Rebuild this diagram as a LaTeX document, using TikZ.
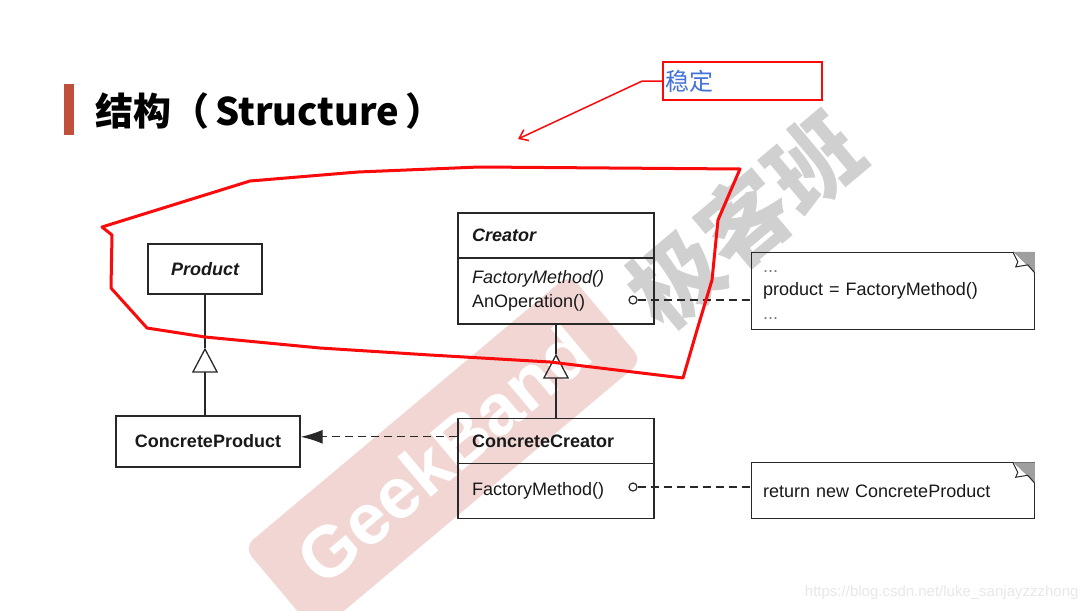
\documentclass[tikz,border=0pt]{standalone}
\usepackage{fontspec}
\setmainfont{Liberation Sans}
\newfontfamily\cjkfont{Noto Sans CJK SC}
\usetikzlibrary{positioning}
\usetikzlibrary{arrows.meta}
\definecolor{boxline}{RGB}{40,40,40}
\definecolor{boxtext}{RGB}{25,25,25}
\definecolor{dotgray}{RGB}{120,120,120}
\definecolor{titlered}{RGB}{192,80,60}
\definecolor{stableblue}{RGB}{66,114,216}
\definecolor{markred}{RGB}{250,10,10}
\definecolor{wmpink}{RGB}{241,214,211}
\definecolor{wmgray}{RGB}{208,208,208}
\definecolor{urlgray}{RGB}{232,232,232}
\newcommand{\umlfont}{\fontsize{18}{23}\selectfont}
\tikzstyle{every picture}=[x=1pt, y=-1pt]
\tikzstyle{every node}=[font=\umlfont, text=boxtext]
\tikzstyle{component}=[draw=boxline, line width=1.3pt, rectangle, inner xsep=14pt, align=left]
\tikzstyle{classhead}=[component, text width=168pt, minimum height=45pt]
\tikzstyle{classbody}=[component, text width=168pt, font=\fontsize{18}{24}\selectfont]
\tikzstyle{note}=[component, line width=1.1pt, inner xsep=12pt, text width=259pt, font=\fontsize{18}{23.5}\selectfont]
\tikzstyle{link}=[draw=boxline, line width=1.3pt]
\tikzstyle{uses}=[link, dash pattern=on 8pt off 5pt]
\tikzstyle{inherit}=[link, -{Triangle[open, length=25pt, width=26pt]}]
\tikzstyle{port}=[draw=boxline, line width=1.2pt, circle, inner sep=0pt, minimum size=8pt]
\tikzstyle{scribble}=[draw=markred, line width=3pt, line join=round]
\newcommand{\dogear}[1]{%
  \fill[gray!75] ([xshift=-22pt]#1.north east) -- (#1.north east) -- ([yshift=-21pt]#1.north east) -- cycle;
  \draw[boxline, line width=1pt, fill=white] ([xshift=-22pt]#1.north east)
    -- ([xshift=-17pt, yshift=-10pt]#1.north east) -- ([xshift=-19pt, yshift=-15pt]#1.north east)
    -- ([xshift=-7pt, yshift=-13pt]#1.north east) -- ([yshift=-21pt]#1.north east);}

\begin{document}
\begin{tikzpicture}
\useasboundingbox (0,0) rectangle (1091,610);
\fill[white] (0,0) rectangle (1091,610);

\begin{scope}
\clip (0,0) rectangle (1091,610);
\node[fill=wmpink, rounded corners=12pt, rotate=40, minimum width=425pt, minimum height=113pt,
      text=white, font=\fontsize{72}{72}\selectfont\bfseries] (GeekBand) at (443,454) {GeekBand};
\node[rotate=40, text=wmgray, font=\cjkfont\bfseries\fontsize{90}{90}\selectfont] (GeekClass) at (745,220) {极客班};
\end{scope}
\node[anchor=east, text=urlgray, font=\fontsize{15}{15}\selectfont] (BlogUrl) at (1082,593)
  {https://blog.csdn.net/luke\_sanjayzzzhong};

\fill[titlered] (64,84) rectangle (74,135);
\node[anchor=west, inner sep=0pt, text=black, font=\cjkfont\bfseries\fontsize{38}{38}\selectfont] (Title) at (95,111)
  {结构（\hspace{6pt}Structure\hspace{6pt}）};

\node[component, minimum width=114pt, minimum height=50pt, inner xsep=0pt,
      font=\umlfont\bfseries\itshape] (Product) at (205,269) {Product};
\node[component, minimum width=184pt, minimum height=51pt, inner xsep=0pt,
      font=\umlfont\bfseries] (ConcreteProduct) at (208,441.5) {ConcreteProduct};

\node[classhead, font=\umlfont\bfseries\itshape] (Creator) at (556,235.5) {Creator};
\node[classbody, minimum height=66pt, below=-1.3pt of Creator] (CreatorOps)
  {\textit{FactoryMethod()}\\AnOperation()};
\node[classhead, font=\umlfont\bfseries, below=93pt of CreatorOps] (ConcreteCreator) {ConcreteCreator};
\node[classbody, minimum height=55pt, below=-1.3pt of ConcreteCreator] (ConcreteCreatorOps) {FactoryMethod()};

\node[note, minimum height=75pt, right=96pt of CreatorOps] (OpNote)
  {\strut\textcolor{dotgray}{...}\\product = FactoryMethod()\\\strut\textcolor{dotgray}{...}};
\node[note, minimum height=56pt, right=96pt of ConcreteCreatorOps] (FactoryNote) {return new ConcreteProduct};
\dogear{OpNote}
\dogear{FactoryNote}

\node[port] (OpPort) at (633,300) {};
\node[port] (FactoryPort) at (633,487) {};

\coordinate[below=53pt of Product] (ProductTri);
\coordinate[below=29pt of CreatorOps] (CreatorTri);

\draw[inherit] (ProductTri |- ConcreteProduct.north) -- (ProductTri);
\draw[link] (ProductTri) -- (Product);
\draw[inherit] (ConcreteCreator.north) -- (CreatorTri);
\draw[link] (CreatorTri) -- (CreatorOps);

\draw[uses, -{Latex[length=22pt, width=14pt]}] ([yshift=4pt]ConcreteCreator.west)
  -- ([yshift=4pt]ConcreteCreator.west -| ConcreteProduct.east);
\draw[uses] (OpPort) -- (OpPort -| OpNote.west);
\draw[uses] (FactoryPort) -- (FactoryPort -| FactoryNote.west);

\draw[scribble] (102,227) -- (112,235) -- (111,288) -- (147,328) -- (205,337) -- (320,348)
  -- (430,355) -- (550,362) -- (683,378) -- (697,330) -- (712,280) -- (718,220) -- (740,169)
  -- (479,167) -- (358,172) -- (250,181) -- cycle;

\node[draw=markred, line width=1.5pt, minimum width=159pt, minimum height=38pt, inner xsep=2pt,
      text width=155pt, align=left, text=stableblue, font=\cjkfont\fontsize{24}{24}\selectfont] (Stable)
  at (742.5,81) {稳定};
\coordinate (StableTip) at (518,139);
\draw[markred, line width=1.5pt, -{Straight Barb[length=8pt, width=12pt]}] (Stable.west) -- ++(-20,0) -- (StableTip);
\end{tikzpicture}
\end{document}
